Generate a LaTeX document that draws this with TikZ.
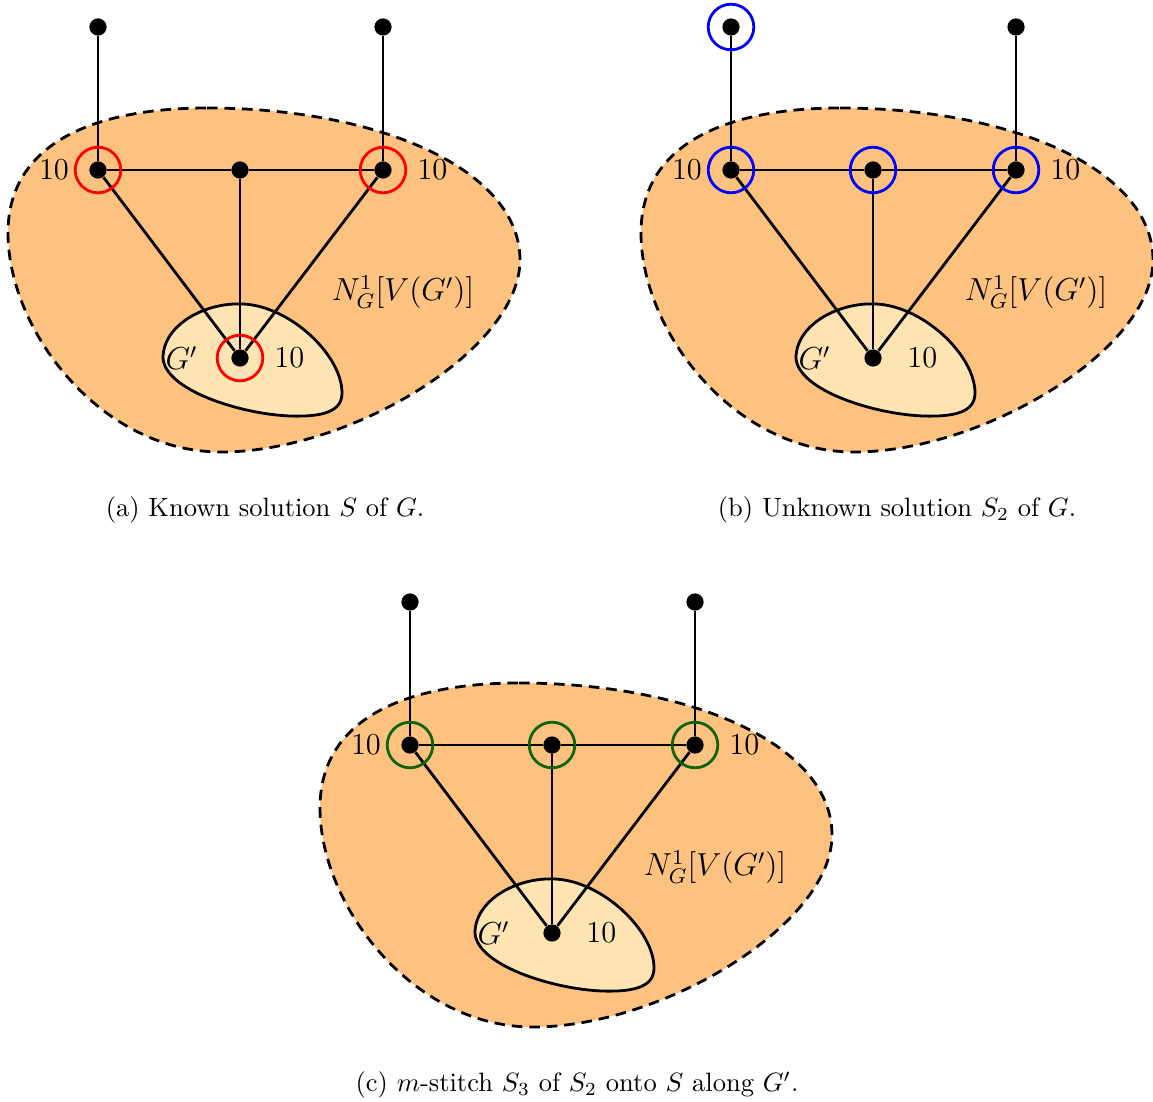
\documentclass[tikz,border=0pt]{standalone}
\usepackage{fontspec}
\usepackage{amsmath}
\usepackage{tikz}
\usetikzlibrary{positioning}
\definecolor{NbhdFill} {RGB}{253,194,128}
\definecolor{SubFill}  {RGB}{253,228,178}
\definecolor{RingRed}  {RGB}{255,0,0}
\definecolor{RingBlue} {RGB}{0,0,255}
\definecolor{RingGreen}{RGB}{16,100,0}

% one panel: neighbourhood, subgraph, vertices and edges (#1 = name prefix)
\newcommand{\stitchgraph}[1]{%
  \draw[nbhd] (207,108) .. controls (380,108) and (520,170) .. (520,260)
    .. controls (520,350) and (350,452) .. (221,452)
    .. controls (100,452) and (8,330) .. (8,233)
    .. controls (8,140) and (100,108) .. (207,108) -- cycle;
  \draw[subg] (163,358) .. controls (163,325) and (205,302) .. (243,304)
    .. controls (290,306) and (342,355) .. (342,393)
    .. controls (342,412) and (322,417) .. (290,416)
    .. controls (240,414) and (165,390) .. (163,358) -- cycle;
  \node[vtx] (#1tl) at (98,27) {};
  \node[vtx] (#1tr) at (383,27) {};
  \node[vtx] (#1l) at (98,170) {};
  \node[vtx] (#1m) at (240,170) {};
  \node[vtx] (#1r) at (383,170) {};
  \node[vtx] (#1b) at (240,358) {};
  \draw[gline] (#1tl) -- (#1l);
  \draw[gline] (#1tr) -- (#1r);
  \draw[gline] (#1l) -- (#1m) -- (#1r);
  \draw[gline] (#1l) -- (#1b);
  \draw[gline] (#1m) -- (#1b);
  \draw[gline] (#1r) -- (#1b);
  \node[wt,left=4pt of #1l] (#1wl) {10};
  \node[wt,right=6pt of #1r] (#1wr) {10};
  \node[wt,right=6pt of #1b] (#1wb) {10};
  \node[wt,left=9pt of #1b] (#1sub) {$G'$};
  \node[wt] (#1nb) at (403,292) {$N^1_G[V(G')]$};
}

\begin{document}
\begin{tikzpicture}[x=0.3774pt,y=-0.3774pt,
    vtx/.style={circle,fill=black,inner sep=0pt,minimum size=6.5pt},
    ring/.style={circle,draw=#1,line width=1.05pt,inner sep=0pt,minimum size=17.2pt},
    gline/.style={line width=1.05pt},
    nbhd/.style={fill=NbhdFill,line width=1.05pt,dash pattern=on 4pt off 2.6pt},
    subg/.style={fill=SubFill,line width=1.05pt},
    wt/.style={font=\fontsize{11.5}{14}\selectfont}]
  \useasboundingbox (0,0) rectangle (1153,1101);

  % (a)
  \begin{scope}
    \stitchgraph{a}
    \node[ring=RingRed] (al-o) at (al) {};
    \node[ring=RingRed] (ar-o) at (ar) {};
    \node[ring=RingRed] (ab-o) at (ab) {};
  \end{scope}
  \node (capa) at (265,510) {(a) Known solution $S$ of $G$.};

  % (b)
  \begin{scope}[shift={(633,0)}]
    \stitchgraph{b}
    \node[ring=RingBlue] (btl-o) at (btl) {};
    \node[ring=RingBlue] (bl-o) at (bl) {};
    \node[ring=RingBlue] (bm-o) at (bm) {};
    \node[ring=RingBlue] (br-o) at (br) {};
  \end{scope}
  \node (capb) at (897,510) {(b) Unknown solution $S_2$ of $G$.};

  % (c)
  \begin{scope}[shift={(312,575)}]
    \stitchgraph{c}
    \node[ring=RingGreen] (cl-o) at (cl) {};
    \node[ring=RingGreen] (cm-o) at (cm) {};
    \node[ring=RingGreen] (cr-o) at (cr) {};
  \end{scope}
  \node (capc) at (577,1085) {(c) $m$-stitch $S_3$ of $S_2$ onto $S$ along $G'$.};
\end{tikzpicture}
\end{document}
